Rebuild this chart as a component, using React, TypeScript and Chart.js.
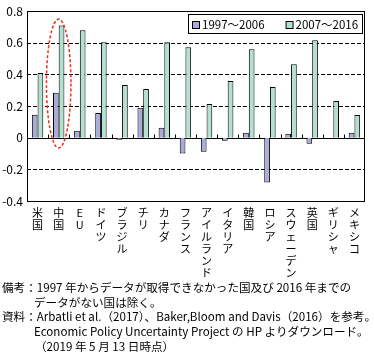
import React, { useEffect, useRef } from "react";
import { Chart, registerables } from "chart.js";

Chart.register(...registerables);

const categories = ["米国", "中国", "EU", "ドイツ", "ブラジル", "チリ", "カナダ", "フランス", "アイルランド", "イタリア", "韓国", "ロシア", "スウェーデン", "英国", "ギリシャ", "メキシコ"];
const series1Label = "1997～2006";
const series2Label = "2007～2016";
const series1 = [0.145, 0.285, 0.044, 0.157, -0.012, 0.19, 0.063, -0.1, -0.088, -0.019, 0.031, -0.283, 0.025, -0.038, 0, 0.031];
const series2 = [0.41, 0.71, 0.68, 0.603, 0.333, 0.308, 0.603, 0.572, 0.214, 0.358, 0.559, 0.32, 0.465, 0.616, 0.232, 0.144];
const yTicks = [0.8, 0.6, 0.4, 0.2, 0, -0.2, -0.4];
const highlightIndex = 1;
const highlightTop = 0.75;
const highlightBottom = -0.065;

const noteLines = [
  "備考：1997 年からデータが取得できなかった国及び 2016 年までの",
  "データがない国は除く。",
  "資料：Arbatli et al.（2017）、Baker,Bloom and Davis（2016）を参考。",
  "Economic Policy Uncertainty Project の HP よりダウンロード。",
  "（2019 年 5 月 13 日時点）",
];

const FONT = "'Noto Sans CJK JP', 'Noto Sans', sans-serif";
const C1 = "#aaaadb";
const C2 = "#b3e0d1";

const decorPlugin = {
  id: "decor",
  beforeDatasetsDraw(chart: any) {
    const { ctx, chartArea, scales } = chart;
    const y = scales.y;
    ctx.save();
    ctx.strokeStyle = "#000";
    ctx.lineWidth = 1;
    yTicks.forEach((v) => {
      if (v === yTicks[0] || v === yTicks[yTicks.length - 1]) return;
      const py = Math.round(y.getPixelForValue(v)) + 0.5;
      ctx.setLineDash(v === 0 ? [] : [4, 2]);
      ctx.beginPath();
      ctx.moveTo(chartArea.left, py);
      ctx.lineTo(chartArea.right, py);
      ctx.stroke();
    });
    ctx.setLineDash([]);
    const x = scales.x;
    const zy = Math.round(y.getPixelForValue(0)) + 0.5;
    for (let i = 1; i < categories.length; i++) {
      const px = Math.round(x.getPixelForValue(i - 0.5)) + 0.5;
      ctx.beginPath();
      ctx.moveTo(px, zy);
      ctx.lineTo(px, zy - 4);
      ctx.stroke();
    }
    ctx.restore();
  },
  afterDraw(chart: any) {
    const { ctx, chartArea, scales } = chart;
    ctx.save();
    ctx.strokeStyle = "#000";
    ctx.lineWidth = 1;
    ctx.strokeRect(Math.round(chartArea.left) + 0.5, Math.round(chartArea.top) + 0.5, Math.round(chartArea.right - chartArea.left) - 1, Math.round(chartArea.bottom - chartArea.top));
    const x = scales.x;
    const y = scales.y;
    const cx = x.getPixelForValue(highlightIndex);
    const catW = x.getPixelForValue(1) - x.getPixelForValue(0);
    const yt = y.getPixelForValue(highlightTop);
    const yb = y.getPixelForValue(highlightBottom);
    ctx.strokeStyle = "#e8301c";
    ctx.lineWidth = 1.5;
    ctx.setLineDash([3, 2]);
    ctx.beginPath();
    ctx.ellipse(cx, (yt + yb) / 2, catW * 0.58, (yb - yt) / 2, 0, 0, Math.PI * 2);
    ctx.stroke();
    ctx.setLineDash([]);
    ctx.font = `11.5px ${FONT}`;
    ctx.textBaseline = "middle";
    ctx.fillStyle = "#000";
    const w1 = ctx.measureText(series1Label).width;
    const w2 = ctx.measureText(series2Label).width;
    const box = 7;
    const padL = 4, padR = 4, gapBT = 3, gapItem = 21;
    const totalW = padL + box + gapBT + w1 + gapItem + box + gapBT + w2 + padR;
    const right = Math.round(chartArea.right) - 3;
    const left = Math.round(right - totalW);
    const top = Math.round(chartArea.top) + 3;
    const h = 19;
    ctx.lineWidth = 1;
    ctx.strokeStyle = "#000";
    ctx.strokeRect(left + 0.5, top + 0.5, right - left, h);
    const cy = top + h / 2 + 1;
    let px = left + padL;
    const drawItem = (color: string, label: string, w: number) => {
      ctx.fillStyle = color;
      ctx.fillRect(px + 0.5, Math.round(cy - box / 2) + 0.5, box, box);
      ctx.strokeRect(px + 0.5, Math.round(cy - box / 2) + 0.5, box, box);
      px += box + gapBT;
      ctx.fillStyle = "#000";
      ctx.fillText(label, px, cy);
      px += w + gapItem;
    };
    drawItem(C1, series1Label, w1);
    drawItem(C2, series2Label, w2);
    ctx.restore();
  },
};

export default function App() {
  const ref = useRef<HTMLCanvasElement>(null);
  useEffect(() => {
    document.body.style.margin = "0";
    Chart.defaults.font.family = FONT;
    const chart = new Chart(ref.current!, {
      type: "bar",
      data: {
        labels: categories.map((c) => Array.from(c)),
        datasets: [
          { label: series1Label, data: series1, backgroundColor: C1, borderColor: "#000", borderWidth: 1 },
          { label: series2Label, data: series2, backgroundColor: C2, borderColor: "#000", borderWidth: 1 },
        ],
      },
      options: {
        animation: false,
        responsive: false,
        maintainAspectRatio: false,
        layout: { padding: { top: 10, right: 9, left: 0, bottom: 0 } },
        datasets: { bar: { categoryPercentage: 0.54, barPercentage: 1 } },
        plugins: { legend: { display: false }, tooltip: { enabled: false } },
        scales: {
          x: {
            grid: { display: false, drawTicks: false },
            border: { display: false },
            ticks: {
              color: "#000",
              font: { size: 11, family: FONT, lineHeight: 1.09 },
              padding: 6,
              maxRotation: 0,
              minRotation: 0,
              autoSkip: false,
            },
            afterFit(scale: any) {
              scale.height = 79;
            },
          },
          y: {
            min: -0.4,
            max: 0.8,
            afterBuildTicks(scale: any) {
              scale.ticks = yTicks.map((v) => ({ value: v }));
            },
            grid: { display: false, drawTicks: false },
            border: { display: false },
            ticks: {
              color: "#000",
              font: { size: 12, family: FONT },
              padding: 4,
              callback: (v: any) => String(Math.round(Number(v) * 10) / 10),
            },
            afterFit(scale: any) {
              scale.width = 27;
            },
          },
        },
      },
      plugins: [decorPlugin],
    } as any);
    return () => chart.destroy();
  }, []);

  return (
    <div style={{ position: "relative", width: 374, height: 358, background: "#fff", fontFamily: FONT, overflow: "hidden" }}>
      <canvas ref={ref} width={374} height={280} style={{ position: "absolute", left: 0, top: 0, width: 374, height: 280 }} />
      <div style={{ position: "absolute", left: 2, top: 280, fontSize: 11.6, lineHeight: "14.7px", color: "#000", whiteSpace: "pre" }}>
        {noteLines.map((l, i) => (
          <div key={i} style={{ paddingLeft: i === 1 || i === 3 ? 32 : i === 4 ? 33 : 0 }}>{l}</div>
        ))}
      </div>
    </div>
  );
}
